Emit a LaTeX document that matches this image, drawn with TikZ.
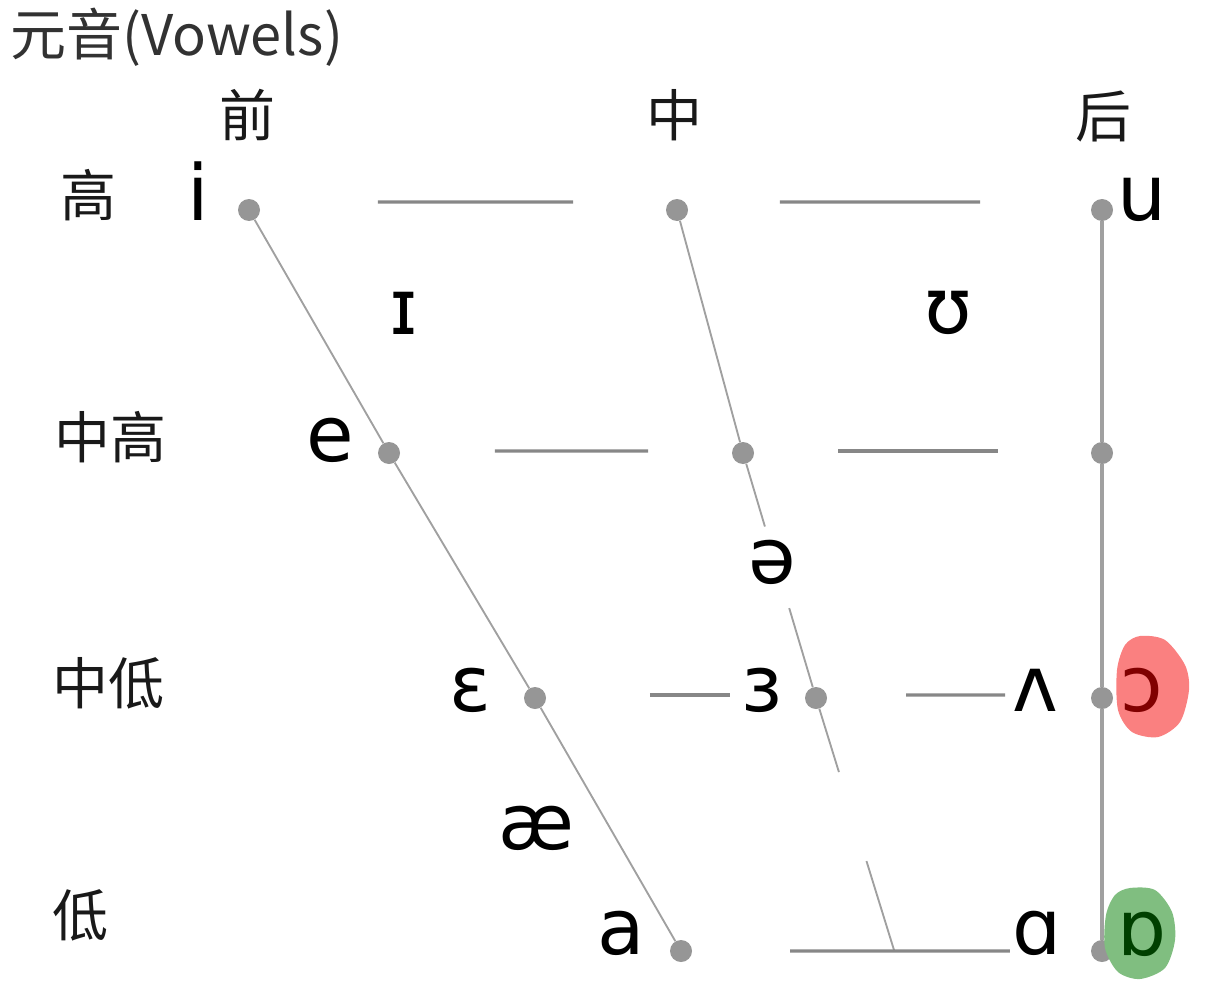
\documentclass[tikz,border=0pt]{standalone}
\usepackage{fontspec}
\setmainfont{DejaVu Sans}
\newfontfamily\cjk{Noto Sans CJK SC}
\usetikzlibrary{calc}

\begin{document}
\begin{tikzpicture}[x=0.75pt,y=0.75pt,yscale=-1,xscale=1,
  dot/.style={circle,fill={rgb, 255:red, 150; green, 150; blue, 150 },inner sep=0pt,minimum size=16.5pt},
  hline/.style={draw={rgb, 255:red, 135; green, 135; blue, 135 },line width=2.3pt},
  dline/.style={draw={rgb, 255:red, 160; green, 160; blue, 160 },line width=1.4pt},
  vline/.style={draw={rgb, 255:red, 160; green, 160; blue, 160 },line width=2.8pt},
  ipa/.style={inner sep=0pt,font=\fontsize{58}{70}\selectfont},
  cn/.style={inner sep=0pt,font=\cjk\fontsize{42}{50}\selectfont,text={rgb, 255:red, 25; green, 25; blue, 25 }}]
\useasboundingbox (0,0) rectangle (1220,1002);

% Title
\node[inner sep=0pt,anchor=west,font=\cjk\fontsize{42}{50}\selectfont,text={rgb, 255:red, 50; green, 50; blue, 50 }] (title) at (10,37) {元音(Vowels)};

% Dots
\node[dot] (fi) at (249,210) {};
\node[dot] (ci) at (677,210) {};
\node[dot] (bi) at (1102,210) {};
\node[dot] (fe) at (389,453) {};
\node[dot] (ce) at (743,453) {};
\node[dot] (be) at (1102,453) {};
\node[dot] (fo) at (535,698) {};
\node[dot] (co) at (816,698) {};
\node[dot] (bo) at (1102,698) {};
\node[dot] (fa) at (681,951) {};
\node[dot] (ba) at (1102,951) {};
\coordinate (ca) at (894,950);

% Front line
\draw[dline] (fi) -- (fe) -- (fo) -- (fa);
% Central line
\draw[dline] (ci) -- (ce) -- ($(ce)!0.30!(co)$);
\draw[dline] ($(ce)!0.633!(co)$) -- (co) -- ($(co)!0.294!(ca)$);
\draw[dline] ($(co)!0.647!(ca)$) -- (ca);
% Back line
\draw[vline] (bi) -- (be) -- (bo) -- (ba);

% Horizontal lines
\draw[hline] ($(fi)!0.301!(ci)+(0,-8)$) -- ($(fi)!0.757!(ci)+(0,-8)$);
\draw[hline] ($(ci)!0.242!(bi)+(0,-8)$) -- ($(ci)!0.713!(bi)+(0,-8)$);
\draw[hline] ($(fe)!0.299!(ce)+(0,-2)$) -- ($(fe)!0.732!(ce)+(0,-2)$);
\draw[hline] ($(ce)!0.265!(be)+(0,-2)$) -- ($(ce)!0.710!(be)+(0,-2)$);
\draw[hline] ($(fo)!0.409!(co)+(0,-3)$) -- ($(fo)!0.694!(co)+(0,-3)$);
\draw[hline] ($(co)!0.315!(bo)+(0,-3)$) -- ($(co)!0.661!(bo)+(0,-3)$);
\draw[hline] ($(fa)!0.259!(ba)$) -- ($(fa)!0.781!(ba)$);

% Highlights
\fill[fill={rgb, 255:red, 250; green, 128; blue, 128 }] plot[smooth cycle] coordinates {(1140,636) (1165,640) (1185,665) (1189,690) (1180,722) (1158,737) (1132,732) (1118,710) (1117,670) (1125,645)};
\fill[fill={rgb, 255:red, 128; green, 190; blue, 128 }] plot[smooth cycle] coordinates {(1130,888) (1155,890) (1172,912) (1175,940) (1165,968) (1140,979) (1118,972) (1105,948) (1106,915) (1115,895)};

% Text Node
\node[cn] (front) at (247,115) {前};
\node[cn] (central) at (674,115) {中};
\node[cn] (back) at (1103,117) {后};
\node[cn] (high) at (88,195) {高};
\node[cn] (midhigh) at (110,437) {中高};
\node[cn] (midlow) at (108,683) {中低};
\node[cn] (low) at (80,915) {低};

% Vowels
\node[ipa] (vi) at (198,191) {i};
\node[ipa] (vI) at (404,313) {ɪ};
\node[ipa] (vU) at (948,313) {ʊ};
\node[ipa] (vu) at (1142,199) {u};
\node[ipa] (ve) at (330,440) {e};
\node[ipa] (vschwa) at (772,562) {ə};
\node[ipa] (veps) at (470,690) {ɛ};
\node[ipa] (vreps) at (762,690) {ɜ};
\node[ipa] (vwedge) at (1035,690) {ʌ};
\node[ipa,text={rgb, 255:red, 128; green, 0; blue, 0 }] (vopen) at (1142,690) {ɔ};
\node[ipa] (vae) at (536,828) {æ};
\node[ipa] (va) at (621,933) {a};
\node[ipa] (valpha) at (1037,933) {ɑ};
\node[ipa,text={rgb, 255:red, 0; green, 64; blue, 0 }] (vturn) at (1142,934) {ɒ};
\end{tikzpicture}
\end{document}
